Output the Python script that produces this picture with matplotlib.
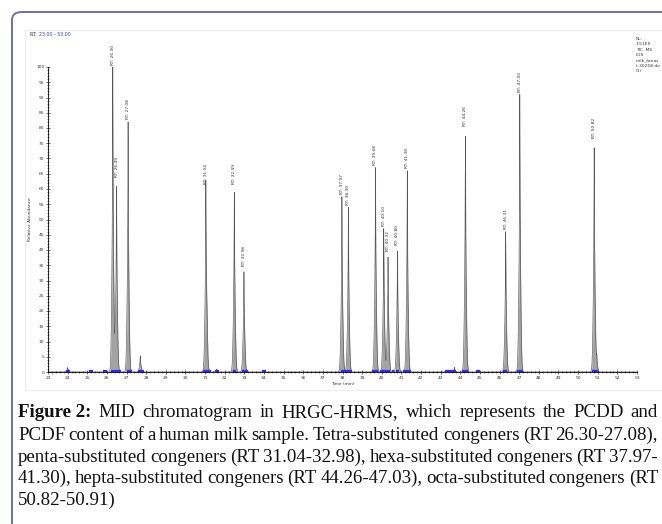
import numpy as np
import matplotlib
matplotlib.use("Agg")
import matplotlib.pyplot as plt
from matplotlib.patches import FancyBboxPatch, Rectangle

# ---- data ----
peak_rt = [26.30, 26.49, 27.08, 31.04, 32.49, 32.98, 37.97, 38.30, 39.68,
           40.10, 40.32, 40.80, 41.30, 44.26, 46.31, 47.03, 50.82]
peak_height = [100, 63, 82, 61, 61, 34, 57.5, 54, 67,
               47, 39, 41, 66, 80, 46, 91, 76]
minor_rt = [24.00, 27.70, 31.10, 31.60, 43.70, 50.95]
minor_height = [1.5, 5.5, 8.0, 1.0, 1.5, 5.0]
blue_ranges = [(23.9, 24.1), (25.1, 25.3), (25.8, 26.0), (26.2, 26.7), (27.0, 27.3),
               (27.6, 27.9), (30.9, 31.3), (31.5, 31.7), (32.4, 32.6), (32.9, 33.2),
               (33.9, 34.1), (37.9, 38.5), (39.5, 39.8), (39.9, 40.4), (40.5, 40.6),
               (40.7, 40.9), (41.1, 41.5), (43.2, 43.8), (44.1, 44.4), (44.8, 45.0),
               (46.2, 46.4), (46.9, 47.2), (50.7, 51.0)]
x_ticks = list(range(23, 54))
y_ticks = list(range(0, 101, 5))

caption_lines = [
    "Figure 2: MID chromatogram in HRGC-HRMS, which represents the PCDD and",
    "PCDF content of a human milk sample. Tetra-substituted congeners (RT 26.30-27.08),",
    "penta-substituted congeners (RT 31.04-32.98), hexa-substituted congeners (RT 37.97-",
    "41.30), hepta-substituted congeners (RT 44.26-47.03), octa-substituted congeners (RT",
    "50.82-50.91)",
]
info_lines = ["NL:", "1.51E5", "TIC  MS", "ICIS", "milk_breas", "t 30258 de", "(1)"]

W, H = 662, 524
fig = plt.figure(figsize=(W / 100, H / 100), dpi=100)

def fx(px):
    return px / W

def fy(py):
    return 1 - py / H

# outer rounded frame
frame = FancyBboxPatch((fx(12), fy(560)), fx(700), fy(12) - fy(560),
                       boxstyle="round,pad=0,rounding_size=0.015",
                       transform=fig.transFigure, fill=False,
                       edgecolor="#6e6eb0", linewidth=1.4)
fig.patches.append(frame)
# inner light panel
panel = Rectangle((fx(25), fy(390)), fx(700), fy(30) - fy(390),
                  transform=fig.transFigure, fill=False,
                  edgecolor="#ececec", linewidth=0.8)
fig.patches.append(panel)

ax = fig.add_axes([fx(48), fy(372), fx(637) - fx(48), fy(67) - fy(372)])
ax.set_xlim(23, 53)
ax.set_ylim(0, 100)

t = np.arange(23, 53.0001, 0.003)
tau = 0.045
y = np.zeros_like(t)
for rt, h in zip(peak_rt + minor_rt, peak_height + minor_height):
    d = np.abs(t - rt)
    y += h * (0.55 * np.exp(-d / (0.35 * tau)) + 0.45 * np.exp(-(d / (1.6 * tau)) ** 2))
ax.fill_between(t, 0, y, color="#a3a3a3", linewidth=0)
ax.plot(t, y, color="#555555", linewidth=0.45)

for rt, h in zip(peak_rt, peak_height):
    ax.text(rt, h + 0.8, f"RT: {rt:.2f}", rotation=90, ha="center", va="bottom",
            fontsize=3.2, color="#333333", clip_on=False)

for a, b in blue_ranges:
    ax.plot([a, b], [0.4, 0.4], color="#2a2aff", linewidth=1.6, solid_capstyle="butt",
            clip_on=False)

ax.axhline(0, color="#222222", linewidth=0.8)

for s in ["top", "right"]:
    ax.spines[s].set_visible(False)
ax.spines["left"].set_linewidth(0.6)
ax.spines["bottom"].set_linewidth(0.6)
ax.set_xticks(x_ticks)
ax.set_xticks(np.arange(23, 53.01, 0.2), minor=True)
ax.set_yticks(y_ticks)
ax.set_yticks(np.arange(0, 100.1, 1), minor=True)
ax.tick_params(axis="both", which="major", labelsize=3.2, length=2.2, width=0.5,
               pad=1.5, direction="inout", colors="#333333")
ax.tick_params(axis="both", which="minor", length=1.2, width=0.4, direction="inout",
               colors="#333333")
ax.set_xlabel("Time (min)", fontsize=3.2, labelpad=1.5, color="#333333")
ax.set_ylabel("Relative Abundance", fontsize=3.2, labelpad=3, color="#333333")

fig.text(fx(30), fy(35), "RT: ", fontsize=3.4, color="#333333", va="center", ha="left")
fig.text(fx(39), fy(35), "23.00 - 53.00", fontsize=3.4, color="#3a3ad0", va="center", ha="left")
fig.text(fx(636), fy(37), "\n".join(info_lines), fontsize=3.2, color="#333333",
         va="top", ha="left", linespacing=1.45)

# caption, justified word by word
fig.canvas.draw()
renderer = fig.canvas.get_renderer()
left_px, right_px = 18, 658
baselines = [417, 440, 462, 483, 505]
min_space = 3.2

def build(fs):
    rows = []
    for i, line in enumerate(caption_lines):
        words = line.split(" ")
        items = []
        if i == 0:
            items.append(("Figure 2:", "bold"))
            words = words[2:]
        items += [(w, "normal") for w in words]
        arts, widths = [], []
        for w, wt in items:
            tx = fig.text(0, fy(baselines[i]), w, fontsize=fs, fontweight=wt,
                          family="Liberation Serif", va="baseline", ha="left",
                          color="#111111")
            widths.append(tx.get_window_extent(renderer).width)
            arts.append(tx)
        rows.append((arts, widths))
    return rows

cap_fs = 14.0
rows = build(cap_fs)
need = max((sum(w) + min_space * (len(w) - 1)) for _, w in rows)
if need > right_px - left_px:
    for arts, _ in rows:
        for a in arts:
            a.remove()
    cap_fs *= (right_px - left_px) / need
    rows = build(cap_fs)

for i, (arts, widths) in enumerate(rows):
    last = i == len(rows) - 1
    space = min_space
    if not last and len(arts) > 1:
        space = (right_px - left_px - sum(widths)) / (len(arts) - 1)
    xpos = left_px
    for tx, wd in zip(arts, widths):
        tx.set_x(fx(xpos))
        xpos += wd + space

fig.savefig("out.png", dpi=100)
